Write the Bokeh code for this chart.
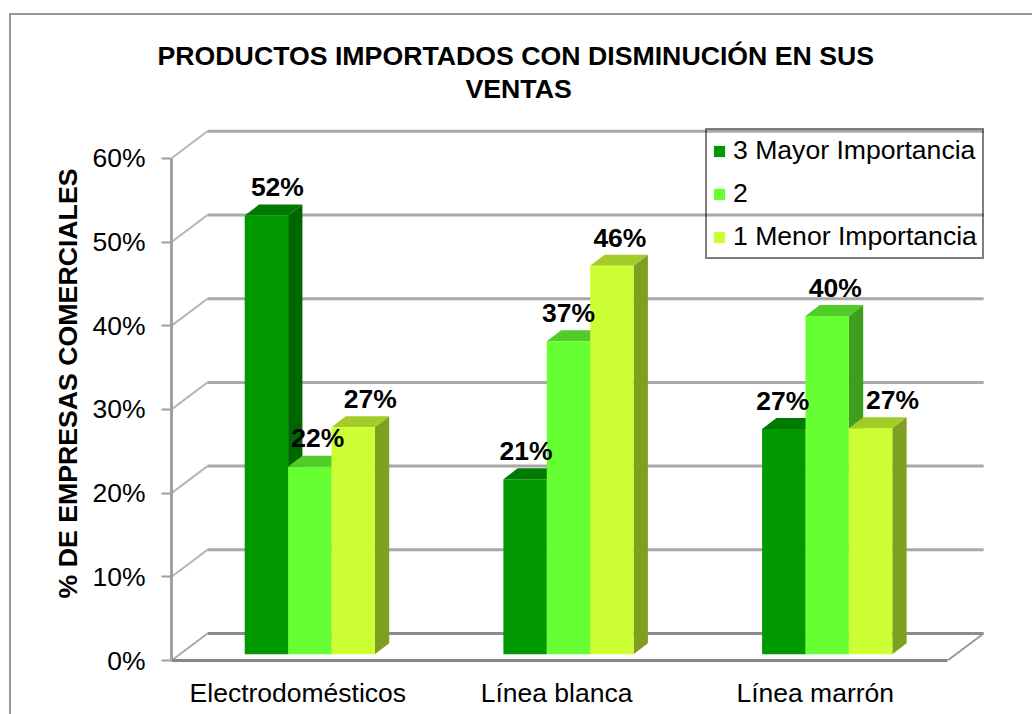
from bokeh.plotting import figure
from bokeh.models import Range1d, LinearAxis, FixedTicker, Title, Legend, LegendItem, ColumnDataSource
from bokeh.core.properties import value
from bokeh.embed import file_html
from bokeh.resources import INLINE

categories = ["Electrodomésticos", "Línea blanca", "Línea marrón"]
series_names = ["3 Mayor Importancia", "2", "1 Menor Importancia"]
mayor = [52.4, 20.9, 26.9]
dos = [22.4, 37.4, 40.4]
menor = [27.1, 46.4, 27.0]
y_ticks = [0, 10, 20, 30, 40, 50, 60]
title_lines = ["PRODUCTOS IMPORTADOS CON DISMINUCIÓN EN SUS", "VENTAS"]
y_title = "% DE EMPRESAS COMERCIALES"

FONT = "Liberation Sans"
W, H = 1032, 714
PX_X, PX_Y = 258.7, 8.37         # px per category / per percent point
LEFT, BOTTOM, TOP = 171, 660, 104  # frame position in the figure
DX, DY = 36 / PX_X, 27 / PX_Y  # chart depth
BAR_OFF, BAR_W = 73.2 / PX_X, 43.4 / PX_X
BASE = 6.3 / PX_Y
BDX, BDY = 14.3 / PX_X, 11 / PX_Y
TICK_SHIFT = -3 / PX_X
colors = [("#009900", "#006600", "#007A00"),
          ("#66FF33", "#3E9E20", "#52CC29"),
          ("#CCFF33", "#7F9F20", "#A3CC29")]
label_dx = [[11, 8, 17], [1, 0, 8], [-1, 8, 22]]  # px, per group / series

frame_css = {
    "background-image": "linear-gradient(#969696,#969696),linear-gradient(#969696,#969696)",
    "background-size": "2px 700px,1023px 2px",
    "background-position": "9px 14px,9px 13px",
    "background-repeat": "no-repeat",
}

p = figure(width=W, height=H, output_backend="svg", toolbar_location=None,
           x_range=Range1d(0, (W - LEFT) / PX_X),
           y_range=Range1d(0, (BOTTOM - TOP) / PX_Y),
           x_axis_type=None, y_axis_type=None,
           min_border_left=LEFT, min_border_right=0, min_border_top=TOP,
           min_border_bottom=H - BOTTOM, outline_line_color=None,
           background_fill_color=None, border_fill_color=None, styles=frame_css)
p.grid.visible = False

# back-wall grid lines with their diagonals
for t in y_ticks[1:]:
    p.line([0, DX], [t, t + DY], line_color="#b5b5b5", line_width=2)
    p.line([DX, 3 + DX], [t + DY, t + DY], line_color="#a8a8a8", line_width=3)
# floor
p.line([DX, 3 + DX], [DY, DY], line_color="#8c8c8c", line_width=3)
p.line([0, DX], [0, DY], line_color="#a8a8a8", line_width=2)
p.line([3, 3 + DX], [0, DY], line_color="#9a9a9a", line_width=2)

# bars
items = []
for j, vals in enumerate([mayor, dos, menor]):
    front, side, top = colors[j]
    lefts = [i + BAR_OFF + j * BAR_W for i in range(3)]
    rights = [l + BAR_W for l in lefts]
    tops = [BASE + v for v in vals]
    p.patches([[r, r + BDX, r + BDX, r] for r in rights],
              [[BASE, BASE + BDY, t + BDY, t] for t in tops],
              fill_color=side, line_color=None)
    p.patches([[l, l + BDX, r + BDX, r] for l, r in zip(lefts, rights)],
              [[t, t + BDY, t + BDY, t] for t in tops],
              fill_color=top, line_color=None)
    r = p.quad(left=lefts, right=rights, bottom=[BASE] * 3, top=tops,
               fill_color=front, line_color=None)
    items.append(LegendItem(label=series_names[j], renderers=[r]))

# data labels
for j, vals in enumerate([mayor, dos, menor]):
    src = ColumnDataSource(dict(
        x=[i + BAR_OFF + (j + 0.5) * BAR_W for i in range(3)],
        y=[BASE + v + 28.3 / PX_Y for v in vals],
        t=[f"{round(v)}%" for v in vals],
        dx=[label_dx[i][j] for i in range(3)]))
    p.text("x", "y", text="t", x_offset="dx", source=src, text_align="center", text_baseline="middle",
           text_font=value(FONT), text_font_style="bold", text_font_size="26.5px", text_color="black")

# axes
yax = LinearAxis(ticker=FixedTicker(ticks=y_ticks), bounds=(0, 60))
yax.major_label_overrides = {t: f"{t}%" for t in y_ticks}
yax.axis_line_color = "#a0a0a0"
yax.axis_line_width = 3
yax.major_tick_line_color = "#a0a0a0"
yax.major_tick_line_width = 2
yax.major_tick_in = 0
yax.major_tick_out = 10
yax.minor_tick_line_color = None
yax.major_label_text_font = FONT
yax.major_label_text_font_size = "26.5px"
yax.major_label_text_color = "black"
yax.major_label_standoff = 16
p.add_layout(yax, "left")

x_ticks = [i + 0.5 + TICK_SHIFT for i in range(3)]
xax = LinearAxis(ticker=FixedTicker(ticks=x_ticks), bounds=(0, 3))
xax.major_label_overrides = dict(zip(x_ticks, categories))
xax.axis_line_color = "#868686"
xax.axis_line_width = 3
xax.major_tick_line_color = None
xax.minor_tick_line_color = None
xax.major_tick_in = 0
xax.major_tick_out = 0
xax.major_label_text_font = FONT
xax.major_label_text_font_size = "26.5px"
xax.major_label_text_color = "black"
xax.major_label_standoff = 17
p.add_layout(xax, "below")

# legend
leg = Legend(items=items, location=(705 - LEFT, BOTTOM - 259),
             background_fill_alpha=0, border_line_color="black", border_line_width=2,
             label_text_font=FONT, label_text_font_size="26.6px", label_text_color="black",
             glyph_width=14, glyph_height=14, label_standoff=7, spacing=12,
             margin=0, padding=5, label_height=30)
p.add_layout(leg)

# titles (first added sits next to the frame)
p.add_layout(Title(text=title_lines[1], align="left", offset=465 - LEFT, standoff=2,
                   text_font=FONT, text_font_style="bold", text_font_size="26.7px", text_color="black"), "above")
p.add_layout(Title(text=title_lines[0], align="left", offset=157 - LEFT, standoff=0,
                   text_font=FONT, text_font_style="bold", text_font_size="26.7px", text_color="black"), "above")
p.add_layout(Title(text=y_title, align="left", offset=BOTTOM - 598, standoff=14,
                   text_font=FONT, text_font_style="bold", text_font_size="26.7px", text_color="black"), "left")

open("out.html", "w").write(file_html(p, INLINE))
